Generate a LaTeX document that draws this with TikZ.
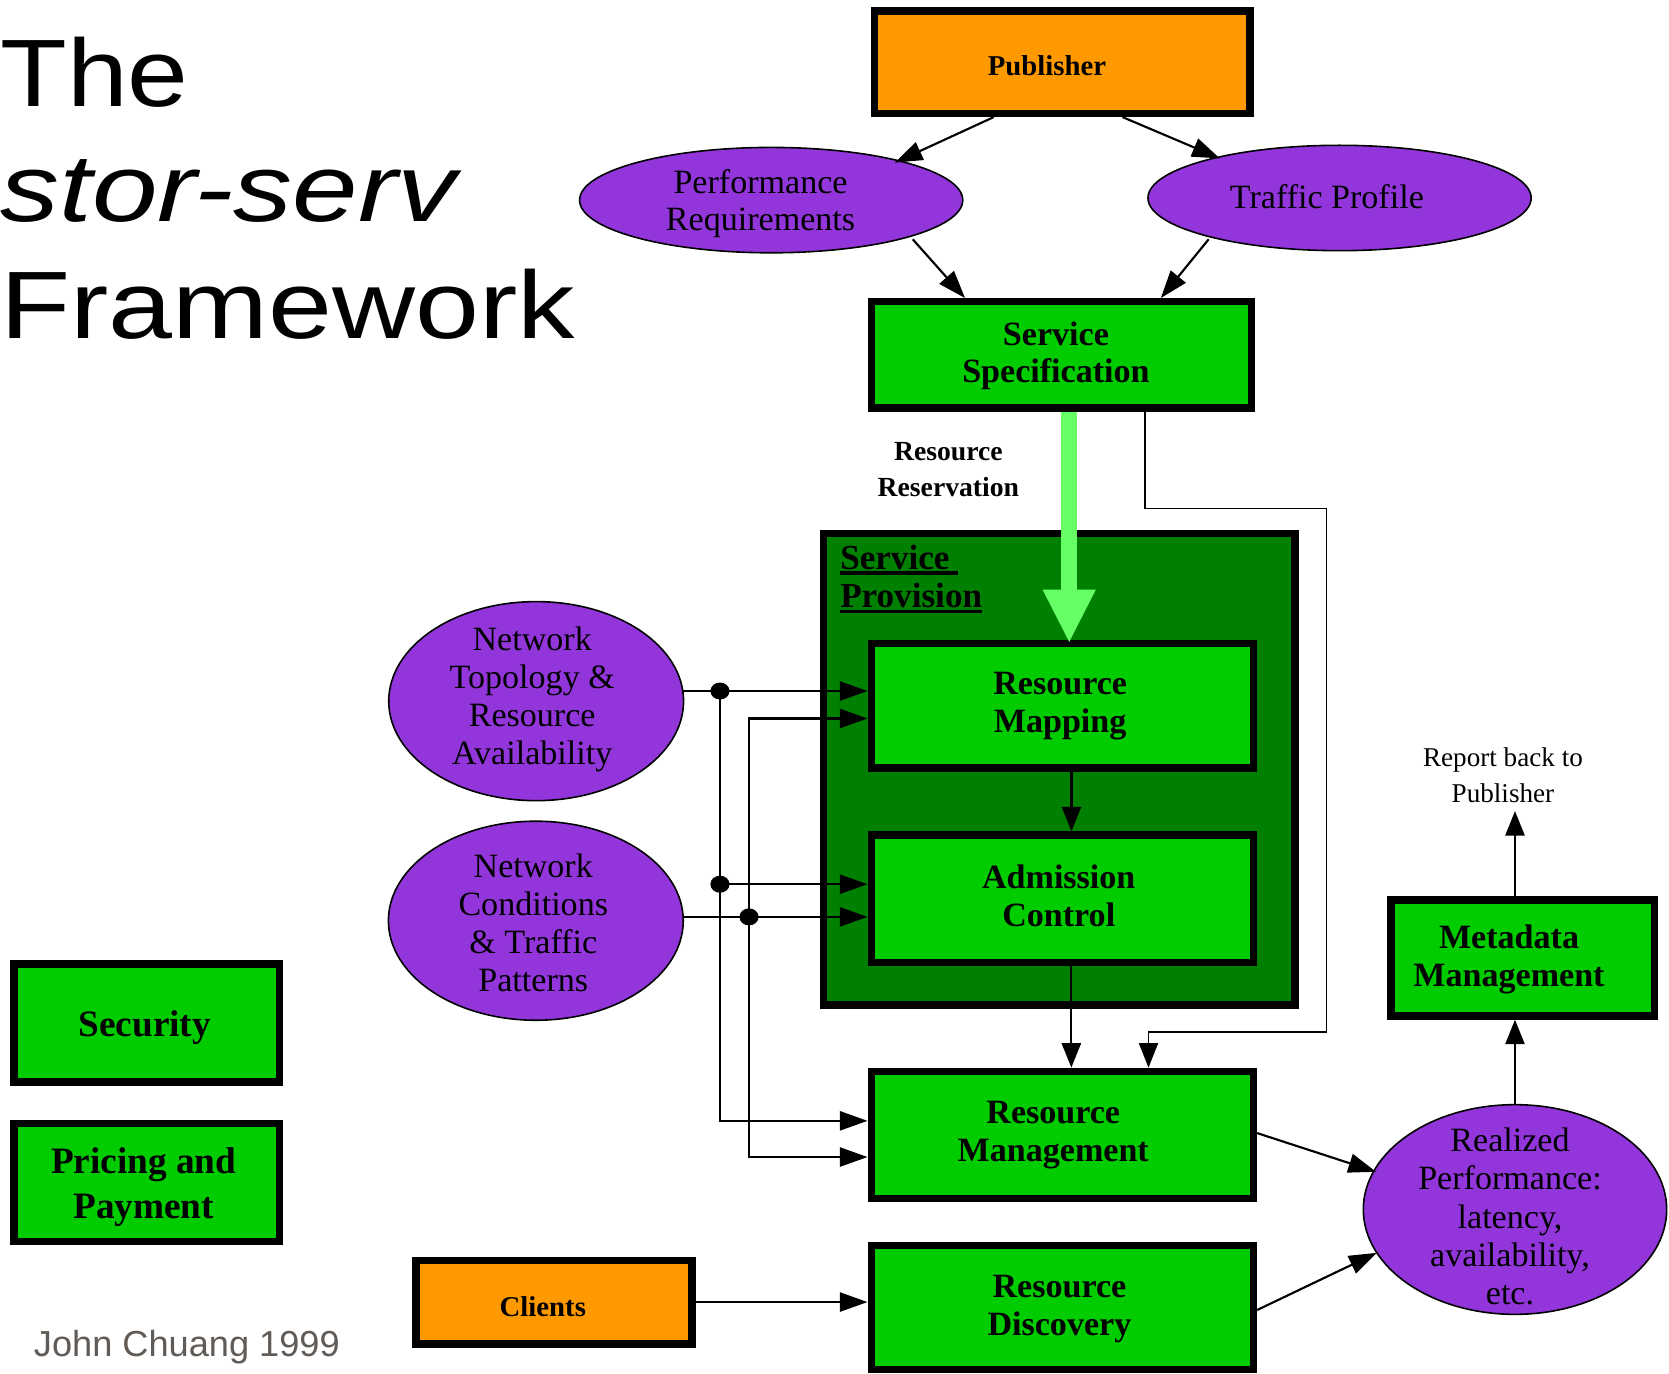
\documentclass[tikz,border=0pt]{standalone}
\usepackage{fontspec}
\setmainfont{Liberation Serif}
\newfontfamily\titlefont{Liberation Sans}
\usepackage{graphicx}
\usetikzlibrary{arrows.meta,shapes.geometric}
\definecolor{orng}{RGB}{255,153,0}
\definecolor{bgreen}{RGB}{0,204,0}
\definecolor{dgreen}{RGB}{0,128,0}
\definecolor{lgreen}{RGB}{102,255,102}
\definecolor{purp}{RGB}{146,54,219}
\definecolor{jgray}{RGB}{96,91,86}
\newcommand\spul[1]{\sbox0{#1}\rlap{\rule[-2.6pt]{\wd0}{1.5pt}}\usebox0}
\begin{document}
\begin{tikzpicture}[x=0.5pt,y=-0.5pt,
  box/.style={draw=black, line width=3.5pt, inner sep=0pt},
  gbox/.style={box, fill=bgreen},
  obox/.style={box, fill=orng},
  oval/.style={ellipse, draw=black, line width=0.75pt, fill=purp, inner sep=0pt},
  lbl/.style={inner sep=0pt, align=center},
  btxt/.style={lbl, font=\bfseries\fontsize{16}{17.75}\selectfont},
  arr/.style={line width=1pt, -{Triangle[length=13pt,width=9pt]}},
  varr/.style={line width=1pt, -{Triangle[length=11.5pt,width=9pt]}},
  jdot/.style={ellipse, fill=black, minimum width=9pt, minimum height=8pt, inner sep=0pt},
  ttl/.style={anchor=base west, inner sep=0pt, font=\titlefont\fontsize{45}{54}\selectfont}]
\useasboundingbox (0,0) rectangle (1568,1290);
\fill[white] (0,0) rectangle (1568,1290);

% title
\node[ttl] (title1) at (0,100.5) {\scalebox{1.14}[1]{The}};
\node[ttl] (title2) at (0,208.3) {\scalebox{1.23}[1]{\itshape stor-serv}};
\node[ttl] (title3) at (0,317.6) {\scalebox{1.2}[1]{Framework}};
\node[anchor=base west, inner sep=0pt, font=\titlefont\fontsize{17}{20}\selectfont, text=jgray] (author) at (31.5,1274) {John Chuang 1999};

% boxes
\node[obox, minimum width=176.5pt, minimum height=48pt] (pub) at (998,58.5) {};
\node[gbox, minimum width=178.5pt, minimum height=50pt] (ss) at (997,333.5) {};
\node[box, fill=dgreen, minimum width=221.5pt, minimum height=221.5pt] (sp) at (995,722.5) {};
\node[gbox, minimum width=179.5pt, minimum height=58.5pt] (rm) at (998,663) {};
\node[gbox, minimum width=179.5pt, minimum height=59.75pt] (ac) at (998,844.25) {};
\node[gbox, minimum width=179.5pt, minimum height=59.75pt] (rmgmt) at (998,1066.25) {};
\node[gbox, minimum width=179.5pt, minimum height=58.25pt] (rd) at (998,1228.25) {};
\node[gbox, minimum width=123.75pt, minimum height=54.5pt] (meta) at (1430.75,900) {};
\node[obox, minimum width=129.5pt, minimum height=39.25pt] (clients) at (520.5,1223.25) {};
\node[gbox, minimum width=124.75pt, minimum height=55.5pt] (sec) at (137.75,961) {};
\node[gbox, minimum width=124.75pt, minimum height=55.5pt] (pay) at (137.75,1111) {};

% ellipses
\node[oval, minimum width=180pt, minimum height=49.5pt] (perf) at (724.5,188) {};
\node[oval, minimum width=180pt, minimum height=49.5pt] (traffic) at (1258.5,186) {};
\node[oval, minimum width=138.5pt, minimum height=93.5pt] (topo) at (503.7,658.7) {};
\node[oval, minimum width=138.5pt, minimum height=93.5pt] (cond) at (503.4,865) {};
\node[oval, minimum width=142.5pt, minimum height=98.5pt] (rp) at (1423.3,1136.3) {};

% texts
\node[lbl, font=\bfseries\fontsize{13.5}{16}\selectfont, anchor=base] (pub-t) at (983.6,70.5) {Publisher};
\node[lbl, font=\fontsize{16}{17.5}\selectfont] (perf-t) at (714.5,191) {Performance\\Requirements};
\node[lbl, font=\fontsize{16}{18}\selectfont, anchor=base] (traffic-t) at (1246.6,195.7) {Traffic Profile};
\node[btxt, font=\bfseries\fontsize{16}{17.3}\selectfont] (ss-t) at (992,334) {Service\\Specification};
\node[lbl, font=\bfseries\fontsize{13}{17}\selectfont] (resv-t) at (891,441.4) {Resource\\Reservation};
\node[lbl, align=left, anchor=west, font=\bfseries\fontsize{16.5}{17.9}\selectfont] (sp-t) at (789,543.7) {\spul{Service\ }\\\spul{Provision}};
\node[btxt] (rm-t) at (996,663.2) {Resource\\Mapping};
\node[btxt] (ac-t) at (994.7,841.5) {Admission\\Control};
\node[btxt] (rmgmt-t) at (989.5,1066.4) {Resource\\Management};
\node[btxt] (rd-t) at (995.3,1229.7) {Resource\\Discovery};
\node[btxt] (meta-t) at (1417.7,901.3) {Metadata\\Management};
\node[lbl, font=\fontsize{16}{18}\selectfont] (rp-t) at (1418.6,1142.9) {Realized\\Performance:\\latency,\\availability,\\etc.};
\node[lbl, font=\fontsize{16}{17.75}\selectfont] (topo-t) at (500,657) {Network\\Topology \&\\Resource\\Availability};
\node[lbl, font=\fontsize{16}{17.75}\selectfont] (cond-t) at (501,867) {Network\\Conditions\\\& Traffic\\Patterns};
\node[lbl, font=\fontsize{12.75}{16.75}\selectfont] (report-t) at (1412,728) {Report back to\\Publisher};
\node[lbl, font=\bfseries\fontsize{13.5}{16}\selectfont, anchor=base] (clients-t) at (510,1237) {Clients};
\node[lbl, font=\bfseries\fontsize{17.5}{21}\selectfont, anchor=base] (sec-t) at (136,974) {Security};
\node[lbl, font=\bfseries\fontsize{17.5}{21}\selectfont] (pay-t) at (135,1115.3) {Pricing and\\Payment};

% junction dots
\node[jdot] (j1) at (676.4,649.2) {};
\node[jdot] (j2) at (676.4,830.7) {};
\node[jdot] (j3) at (703.7,861.4) {};
\coordinate (report) at (1423.3,762);

% connectors
\draw[arr] ([shift={(-64.4,0)}]pub.south) -- ([shift={(116.1,-35.2)}]perf.center);
\draw[arr] ([shift={(56.6,0)}]pub.south) -- ([shift={(-112.5,-37.2)}]traffic.center);
\draw[arr] ([shift={(133,36.8)}]perf.center) -- ([shift={(-90.4,0)}]ss.north);
\draw[arr] ([shift={(-123,38.8)}]traffic.center) -- ([shift={(93.6,0)}]ss.north);
\draw[line width=7.5pt, lgreen, -{Triangle[length=24.5pt,width=25pt,line width=0pt]}] ([shift={(7.5,0)}]ss.south) -- ([shift={(6.5,2)}]rm.north);
\draw[varr] ([shift={(8.6,0)}]rm.south) -- ([shift={(8.6,0)}]ac.north);
\draw[varr] ([shift={(8.5,0)}]ac.south) -- ([shift={(8.5,0)}]rmgmt.north);
\draw[line width=0.6pt, -{Triangle[length=11.5pt,width=9pt]}] ([shift={(78.7,0)}]ss.south) -- ++(0,90.7) -- ++(170.7,0) -- ++(0,491.9) -| ([shift={(81,0)}]rmgmt.north);
\draw[arr] ([shift={(138.3,-9.5)}]topo.center) -- (j1 -| rm.west);
\draw[arr] (j1.center) |- ([shift={(0,-13.25)}]rmgmt.west);
\draw[arr] (j2.center) -- (j2 -| ac.west);
\draw[arr] ([shift={(138.5,-3.6)}]cond.center) -- (j3 -| ac.west);
\draw[arr] (j3.center) |- ([shift={(0,12)}]rm.west);
\draw[arr] (j3.center) |- ([shift={(0,20.75)}]rmgmt.west);
\draw[arr] (clients.east) -- (clients.east -| rd.west);
\draw[arr] ([shift={(0,-1.75)}]rmgmt.east) -- ([shift={(-130.5,-35.4)}]rp.center);
\draw[arr] ([shift={(0,2.5)}]rd.east) -- ([shift={(-129.9,40.7)}]rp.center);
\draw[varr] (rp.north) -- (rp.north |- meta.south);
\draw[varr] (rp.north |- meta.north) -- (report);
\end{tikzpicture}
\end{document}
